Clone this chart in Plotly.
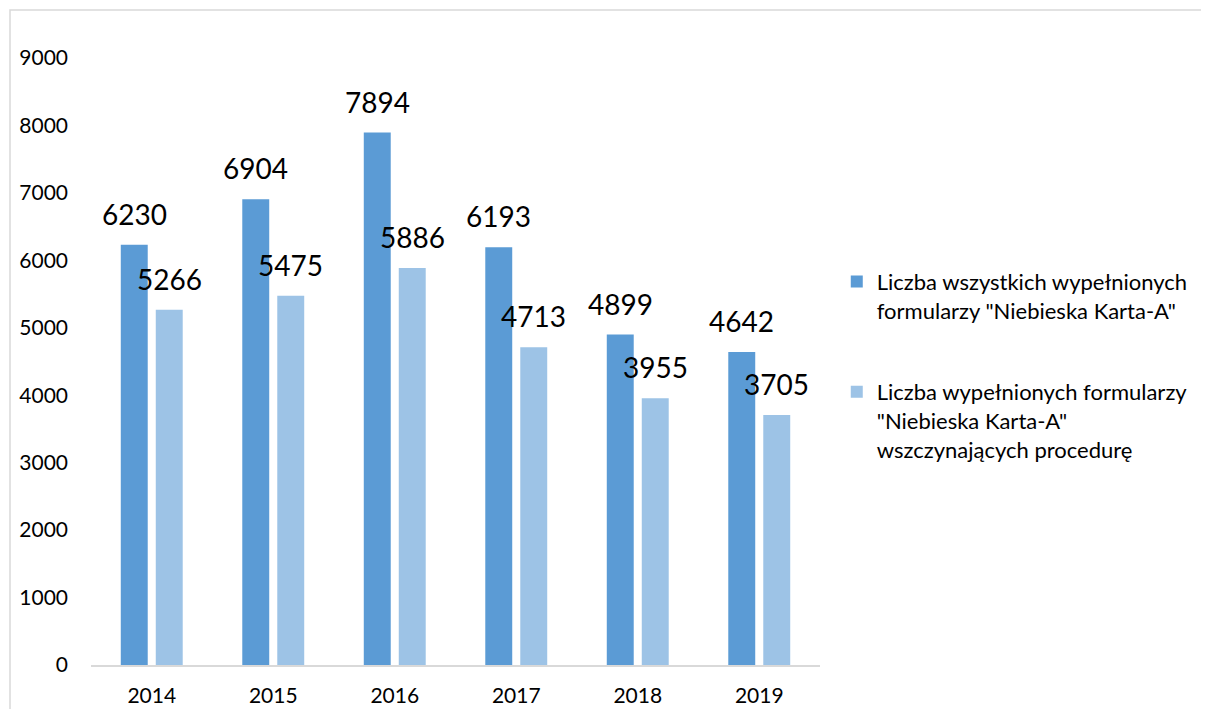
import plotly.graph_objects as go

# dane
lata = ['2014', '2015', '2016', '2017', '2018', '2019']
wszystkie = [6230, 6904, 7894, 6193, 4899, 4642]
wszczynajace = [5266, 5475, 5886, 4713, 3955, 3705]

nazwa_1 = 'Liczba wszystkich wypełnionych<br>formularzy "Niebieska Karta-A"'
nazwa_2 = 'Liczba wypełnionych formularzy<br>"Niebieska Karta-A"<br>wszczynających procedurę'

kolory = {'ciemny': '#5B9BD5', 'jasny': '#9DC3E6'}
czcionka = 'Lato'

fig = go.Figure()

fig.add_trace(go.Bar(
    x=lata, y=wszystkie, name=nazwa_1, legendgroup='a',
    marker_color=kolory['ciemny'], marker_line_width=0,
))
fig.add_trace(go.Bar(
    x=lata, y=wszczynajace, name=nazwa_2, legendgroup='b',
    marker_color=kolory['jasny'], marker_line_width=0,
))

# etykiety wartości nad słupkami (x = indeks kategorii)
for seria, przes in ((wszystkie, -17.5), (wszczynajace, 17.5)):
    for i, v in enumerate(seria):
        fig.add_annotation(
            x=i, y=v, text=str(v), showarrow=False,
            xshift=przes, yshift=12, yanchor='bottom',
            font=dict(family=czcionka, size=28, color='#000000'),
        )

# ramka wykresu
fig.add_shape(
    type='rect', xref='paper', yref='paper',
    x0=(2 - 83) / 729, x1=3, y0=-0.5, y1=(657 - 2) / 607,
    line=dict(color='#d9d9d9', width=1.5), layer='below',
)

fig.update_layout(
    width=1201, height=701,
    margin=dict(l=83, r=389, t=50, b=44),
    plot_bgcolor='white', paper_bgcolor='white',
    barmode='group', bargap=0.424, bargroupgap=0.23,
    font=dict(family=czcionka, size=21, color='#000000'),
    xaxis=dict(
        type='category', range=[-0.5, 5.5], automargin=False,
        showline=True, linecolor='#d9d9d9', linewidth=1.5,
        showgrid=False, ticks='', ticklabelstandoff=11,
        tickfont=dict(size=21),
    ),
    yaxis=dict(
        range=[0, 9000], dtick=1000, showgrid=False, zeroline=False,
        showline=False, ticks='', ticklabelstandoff=22, automargin=False,
        tickfont=dict(size=21),
    ),
    legend=dict(
        x=1.023, y=0.666, xanchor='left', yanchor='top',
        traceorder='grouped', tracegroupgap=50, valign='top',
        font=dict(family=czcionka, size=22),
    ),
)

fig.write_html("out.html")
